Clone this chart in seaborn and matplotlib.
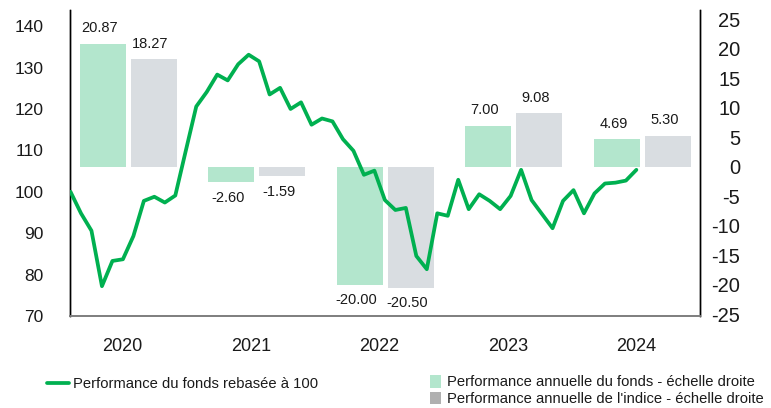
import numpy as np
import pandas as pd
import matplotlib
matplotlib.use("Agg")
import matplotlib.pyplot as plt
from matplotlib.patches import Patch
from matplotlib.lines import Line2D
import seaborn as sns

# ---------------- data ----------------
years = ["2020", "2021", "2022", "2023", "2024"]
fund_annual = [20.87, -2.60, -20.00, 7.00, 4.69]
index_annual = [18.27, -1.59, -20.50, 9.08, 5.30]

fund_rebased = [
    100.0, 94.8, 90.6, 77.2, 83.3, 83.7, 89.3, 97.8, 98.8, 97.4, 99.1, 109.9,
    120.6, 124.1, 128.3, 126.9, 130.8, 133.1, 131.5, 123.5, 125.1, 120.0, 121.6, 116.2,
    117.7, 117.0, 112.7, 109.9, 104.1, 105.1, 98.0, 95.6, 96.1, 84.5, 81.3, 94.8,
    94.2, 102.9, 95.8, 99.4, 97.8, 95.8, 99.0, 105.3, 98.0, 94.6, 91.2, 97.8,
    100.4, 94.8, 99.6, 102.0, 102.2, 102.7, 105.3,
]

line_label = "Performance du fonds rebasée à 100"
fund_label = "Performance annuelle du fonds - échelle droite"
index_label = "Performance annuelle de l'indice - échelle droite"

# ---------------- style ----------------
sns.set_theme(style="white")
plt.rcParams["font.family"] = ["Liberation Sans", "DejaVu Sans"]
plt.rcParams["axes.unicode_minus"] = False

LINE_GREEN = "#00B050"
BAR_GREEN = "#B3E6CD"
BAR_GREY = "#D9DDE1"
LEG_GREY = "#B0B0B0"
TXT = "#1a1a1a"

fig = plt.figure(figsize=(7.71, 4.08), dpi=100)
ax = fig.add_axes([70.3 / 771, 92 / 408, 630 / 771, 306 / 408])
ax2 = ax.twinx()

# layout (month units on the x axis)
group_x0, group_step = 5.53, 12.26
bar_off, bar_w = 2.43, 4.39
label_x0 = 4.98

# bars on right axis
centers = group_x0 + group_step * np.arange(len(years))
ax2.bar(centers - bar_off, fund_annual, width=bar_w, color=BAR_GREEN, linewidth=0, zorder=1)
ax2.bar(centers + bar_off, index_annual, width=bar_w, color=BAR_GREY, linewidth=0, zorder=1)
for xs, vals in ((centers - bar_off, fund_annual), (centers + bar_off, index_annual)):
    for x, v in zip(xs, vals):
        ax2.annotate(f"{v:.2f}", (x, v), xytext=(-2.5, 11.2 if v >= 0 else -11.2),
                     textcoords="offset points", ha="center", va="center",
                     fontsize=10.5, color=TXT)

# line on left axis
df = pd.DataFrame({"month": np.arange(len(fund_rebased)), "value": fund_rebased})
sns.lineplot(data=df, x="month", y="value", ax=ax, color=LINE_GREEN, linewidth=2.7, zorder=5)

ax.set_zorder(ax2.get_zorder() + 1)
ax.patch.set_visible(False)

ax.set_xlim(-0.02, 60.1)
ax.set_ylim(70, 143.9)
ax.set_yticks(np.arange(70, 141, 10))
ax2.set_ylim(-25.3, 26.6)
ax2.set_yticks(np.arange(-25, 26, 5))

ax.set_xticks(label_x0 + group_step * np.arange(len(years)))
ax.set_xticklabels(years)
ax.set_xlabel("")
ax.set_ylabel("")

ax.tick_params(axis="y", length=0, pad=19.4, labelsize=12.5, labelcolor=TXT)
ax.tick_params(axis="x", length=0, pad=16, labelsize=13, labelcolor=TXT)
ax2.tick_params(axis="y", length=0, pad=28.8, labelsize=14.5, labelcolor=TXT)
for lab in ax2.get_yticklabels():
    lab.set_horizontalalignment("right")

for a in (ax, ax2):
    a.grid(False)
    a.spines["top"].set_visible(False)
    a.spines["left"].set_color("black")
    a.spines["left"].set_linewidth(1.0)
    a.spines["right"].set_color("black")
    a.spines["right"].set_linewidth(1.0)
    a.spines["bottom"].set_color("#808080")
    a.spines["bottom"].set_linewidth(1.3)

# legends
h1 = [Line2D([0], [0], color=LINE_GREEN, linewidth=2.7)]
leg1 = fig.legend(h1, [line_label], loc="center left",
                  bbox_to_anchor=(47.3 / 771, 1 - 384 / 408), frameon=False,
                  fontsize=10.6, handlelength=1.5, handletextpad=0.27,
                  borderpad=0, borderaxespad=0)
h2 = [Patch(facecolor=BAR_GREEN, edgecolor="none"), Patch(facecolor=LEG_GREY, edgecolor="none")]
leg2 = fig.legend(h2, [fund_label, index_label], loc="upper left",
                  bbox_to_anchor=(430 / 771, 1 - 375 / 408), frameon=False,
                  fontsize=10.6, handlelength=0.75, handleheight=0.95, handletextpad=0.4,
                  labelspacing=0.15, borderpad=0, borderaxespad=0)
for leg in (leg1, leg2):
    for t in leg.get_texts():
        t.set_color(TXT)

fig.savefig("out.png", dpi=100)
